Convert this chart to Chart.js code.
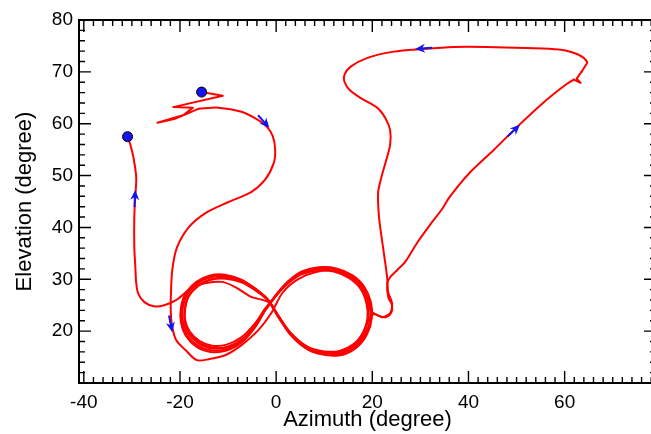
<!DOCTYPE html>
<html>
<head>
<meta charset="utf-8">
<title>Azimuth / Elevation track</title>
<script src="https://cdn.jsdelivr.net/npm/chart.js@4/dist/chart.umd.min.js"></script>
<style>
  html, body { margin: 0; padding: 0; background: #fff; overflow: hidden; }
  /* the plot frame runs a little past the right edge of the window */
  #wrap { width: 662px; height: 434px; }
</style>
</head>
<body>
<div id="wrap"><canvas id="track" width="662" height="434"></canvas></div>
<script>
// Track in [azimuth, elevation] degrees, split into pieces in the order it was flown.
const zigzag = [
  [-15.5, 66.1], [-11.1, 65.4], [-21.4, 63.2], [-17.3, 63.1], [-19.2, 61.7],
  [-24.7, 60.2], [-21.2, 60.9], [-18.1, 62.1], [-16.1, 62.9]
];
const descent = [
  [-16.1, 62.9], [-12.0, 63.1], [-7.2, 62.3], [-3.7, 60.7], [-1.9, 59.4], [-0.7, 57.6],
  [-0.2, 55.0], [-0.5, 52.4], [-2.3, 49.2], [-5.2, 46.8], [-9.9, 44.9], [-14.6, 42.8],
  [-18.1, 40.1], [-20.6, 36.2], [-21.6, 31.8], [-21.9, 26.6], [-21.9, 23.5], [-21.6, 20.8],
  [-20.8, 18.3], [-18.8, 16.3], [-16.5, 14.4], [-14.0, 14.6], [-10.5, 15.4], [-7.2, 17.3],
  [-3.7, 20.2], [-1.0, 23.5], [1.4, 27.5], [4.5, 30.0], [8.3, 31.4], [12.2, 31.6],
  [15.3, 30.6], [17.7, 28.5], [19.0, 25.5], [19.2, 22.6], [18.2, 19.8], [16.2, 17.4],
  [13.3, 16.0], [10.0, 15.9], [6.5, 16.8], [3.0, 19.4], [0.3, 23.0], [-1.7, 26.0],
  [-4.2, 28.0], [-7.3, 29.8], [-10.6, 30.6], [-13.7, 30.4], [-16.4, 29.2], [-18.5, 27.0],
  [-19.4, 24.4], [-19.4, 21.9], [-18.3, 19.5], [-16.2, 17.7], [-13.5, 16.7], [-10.3, 16.9],
  [-7.0, 18.4], [-4.3, 21.2], [-2.4, 24.0]
];
const firstLoop = [
  [-2.4, 24.0], [0.4, 27.5], [2.5, 29.6], [5.2, 31.4], [8.7, 32.2], [12.3, 32.0],
  [15.6, 30.6], [18.1, 28.4], [19.4, 25.4], [19.6, 22.4], [18.6, 19.5], [16.5, 17.1],
  [13.5, 15.7], [10.2, 15.7], [6.7, 16.7], [3.2, 19.4], [0.5, 22.9], [-1.6, 25.9],
  [-4.0, 27.8], [-7.1, 29.5], [-10.4, 30.3], [-13.5, 30.0], [-16.1, 28.9], [-18.1, 26.9],
  [-18.9, 24.5], [-18.9, 22.0], [-17.9, 19.8], [-15.9, 18.1], [-13.3, 17.2], [-10.3, 17.4],
  [-7.1, 18.9], [-4.4, 21.5], [-2.5, 24.1]
];
const outbound = [
  [-2.5, 24.1], [0.5, 27.4], [2.6, 29.3], [5.3, 31.0], [8.7, 31.8], [12.2, 31.6],
  [15.4, 30.3], [17.8, 28.3], [19.0, 25.6], [19.6, 24.0], [21.0, 23.1], [22.7, 22.7],
  [23.9, 23.5], [24.1, 25.0], [23.3, 26.6], [23.1, 29.1], [23.7, 30.4], [25.2, 31.8],
  [26.8, 33.3], [29.3, 37.0], [32.0, 40.5], [34.4, 43.4], [36.1, 45.9], [40.2, 50.5],
  [45.2, 54.9], [49.9, 59.2], [55.5, 64.0], [60.2, 67.5], [61.9, 68.5]
];
const spur = [[61.9, 68.5], [63.3, 67.9], [62.5, 68.7], [63.5, 70.0]];
const topLoop = [
  [63.5, 70.0], [64.3, 71.2], [64.7, 71.9], [62.9, 73.3], [58.8, 74.3], [52.0, 74.6],
  [43.7, 74.8], [36.9, 74.8], [30.3, 74.4], [24.5, 73.9], [19.0, 72.7], [15.5, 71.0],
  [14.2, 69.4], [14.2, 68.1], [15.3, 66.5], [17.5, 65.0], [21.0, 63.1], [22.7, 61.1],
  [23.7, 58.8], [23.7, 55.9], [22.9, 53.0], [21.9, 49.7], [21.2, 46.6], [21.4, 42.0],
  [22.1, 37.0], [22.7, 33.1], [23.1, 30.2], [23.3, 27.5], [24.1, 25.4], [23.7, 23.5],
  [22.1, 22.7], [20.4, 23.3], [19.2, 22.1], [18.4, 19.7], [16.4, 17.2], [13.5, 15.8],
  [10.2, 15.6], [6.6, 16.5], [3.1, 19.2], [0.4, 22.8], [-1.6, 25.8], [-4.1, 27.7],
  [-7.2, 29.4], [-10.5, 30.1], [-13.6, 29.9], [-16.2, 28.7], [-18.2, 26.7], [-19.0, 24.3],
  [-19.0, 21.8], [-17.9, 19.5], [-15.8, 17.7], [-13.1, 16.8], [-10.0, 17.0], [-6.8, 18.6],
  [-4.1, 21.3], [-2.3, 24.0]
];
const secondLoop = [
  [-2.3, 24.0], [0.6, 27.6], [2.7, 29.7], [5.4, 31.5], [8.9, 32.3], [12.5, 32.1],
  [15.8, 30.8], [18.3, 28.6], [19.7, 25.6], [19.9, 22.5], [18.9, 19.4], [16.8, 16.9],
  [13.7, 15.4], [10.3, 15.4], [6.8, 16.4], [3.3, 19.1], [0.6, 22.7], [-1.5, 25.8],
  [-3.9, 27.9], [-7.0, 29.8], [-10.3, 30.7], [-13.5, 30.5], [-16.3, 29.4], [-18.6, 27.2],
  [-19.6, 24.6], [-19.6, 21.8], [-18.6, 19.3], [-16.4, 17.3], [-13.6, 16.3], [-10.4, 16.5],
  [-7.1, 18.1], [-4.3, 20.9], [-2.4, 23.9]
];
const thirdLoop = [
  [-2.4, 23.9], [0.3, 27.3], [2.3, 29.2], [5.0, 30.9], [8.5, 31.7], [12.0, 31.5],
  [15.2, 30.2], [17.6, 28.1], [18.8, 25.3], [19.0, 22.5], [18.1, 19.8], [16.1, 17.5],
  [13.2, 16.2], [10.0, 16.1], [6.5, 17.0], [3.0, 19.7], [0.3, 23.2], [-1.7, 26.1],
  [-4.2, 28.1], [-7.4, 30.0], [-10.7, 30.9], [-13.9, 30.7], [-16.6, 29.5], [-18.8, 27.3],
  [-19.8, 24.6], [-19.8, 21.7], [-18.8, 19.1], [-16.6, 17.0], [-13.7, 16.0], [-10.5, 16.2],
  [-7.2, 17.8], [-4.4, 20.7], [-2.5, 23.8]
];
const returnPath = [
  [-2.5, 23.8], [0.5, 27.4], [2.6, 29.5], [5.3, 31.3], [8.8, 32.1], [12.4, 31.9],
  [15.7, 30.5], [18.2, 28.3], [19.5, 25.3], [19.7, 22.3], [18.7, 19.3], [16.6, 16.9],
  [13.6, 15.5], [10.3, 15.5], [6.8, 16.4], [3.3, 19.0], [0.6, 22.6], [-1.4, 25.5],
  [-5.2, 26.6], [-8.5, 28.5], [-11.3, 29.5], [-14.6, 29.3], [-17.5, 28.5], [-18.8, 27.5],
  [-20.8, 26.0], [-23.3, 25.0], [-25.4, 24.8], [-27.4, 25.6], [-28.7, 27.3], [-29.1, 29.3],
  [-29.3, 32.7], [-29.5, 36.2], [-29.5, 42.0], [-29.3, 45.9], [-29.1, 49.7], [-29.7, 53.6],
  [-30.3, 55.9], [-30.9, 57.5]
];

// end points of the track
const endAz = [-15.5, -30.9];
const endEl = [66.1, 57.5];

// direction arrows (tip positions)
const arrowAz = [-1.4, -21.6, -29.3, 50.7, 28.9];
const arrowEl = [59.2, 19.8, 47.2, 59.8, 74.4];

const xTicks = [-40, -20, 0, 20, 40, 60];
const yTicks = [20, 30, 40, 50, 60, 70, 80];

const RED = '#ff0000';
const BLUE = '#1414ee';
const FONT = "'Liberation Sans', Arial, Helvetica, sans-serif";

const pieces = [
  { pts: zigzag, tension: 0 },
  { pts: descent, tension: 0.3 },
  { pts: firstLoop, tension: 0.3 },
  { pts: outbound, tension: 0.3 },
  { pts: spur, tension: 0 },
  { pts: topLoop, tension: 0.3 },
  { pts: secondLoop, tension: 0.3 },
  { pts: thirdLoop, tension: 0.3 },
  { pts: returnPath, tension: 0.3 }
];
const fullTrack = pieces.flatMap(p => p.pts);

const datasets = [{
  data: endAz.map((a, i) => ({ x: a, y: endEl[i] })),
  showLine: false,
  pointRadius: 5,
  pointBackgroundColor: BLUE,
  pointBorderColor: '#000',
  pointBorderWidth: 1,
  order: 0
}].concat(pieces.map(p => ({
  data: p.pts.map(([a, e]) => ({ x: a, y: e })),
  showLine: true,
  borderColor: RED,
  borderWidth: 2,
  borderJoinStyle: 'round',
  borderCapStyle: 'round',
  pointRadius: 0,
  tension: p.tension,
  order: 1
})));

// box frame with inward major/minor ticks on all four sides
const frame = {
  id: 'frame',
  afterDraw(chart) {
    const { ctx, chartArea: a, scales: { x, y } } = chart;
    ctx.save();
    ctx.strokeStyle = '#000';
    ctx.lineWidth = 2;
    ctx.strokeRect(a.left, a.top, a.right - a.left, a.bottom - a.top);
    ctx.lineWidth = 1.4;
    ctx.beginPath();
    for (let v = -40; v < x.max; v += 2) {
      const px = x.getPixelForValue(v);
      const len = v % 20 === 0 ? 12 : 6;
      ctx.moveTo(px, a.bottom); ctx.lineTo(px, a.bottom - len);
      ctx.moveTo(px, a.top); ctx.lineTo(px, a.top + len);
    }
    for (let v = 12; v < y.max; v += 2) {
      const py = y.getPixelForValue(v);
      const len = v % 10 === 0 ? 12 : 6;
      ctx.moveTo(a.left, py); ctx.lineTo(a.left + len, py);
      ctx.moveTo(a.right, py); ctx.lineTo(a.right - len, py);
    }
    ctx.stroke();
    ctx.restore();
  }
};

// blue arrowheads pointing along the track
const arrows = {
  id: 'arrows',
  afterDatasetsDraw(chart) {
    const { ctx, scales: { x, y } } = chart;
    const px = fullTrack.map(([a, e]) => [x.getPixelForValue(a), y.getPixelForValue(e)]);
    ctx.save();
    ctx.fillStyle = BLUE;
    ctx.strokeStyle = BLUE;
    ctx.lineWidth = 2;
    arrowAz.forEach((az, k) => {
      const tx = x.getPixelForValue(az);
      const ty = y.getPixelForValue(arrowEl[k]);
      let best = 1, bestD = Infinity;
      for (let i = 1; i < px.length - 1; i++) {
        const d = (px[i][0] - tx) ** 2 + (px[i][1] - ty) ** 2;
        if (d < bestD) { bestD = d; best = i; }
      }
      const ang = Math.atan2(px[best + 1][1] - px[best - 1][1], px[best + 1][0] - px[best - 1][0]);
      ctx.save();
      ctx.translate(tx, ty);
      ctx.rotate(ang);
      ctx.beginPath();
      ctx.moveTo(-17, 0); ctx.lineTo(-6, 0);
      ctx.stroke();
      ctx.beginPath();
      ctx.moveTo(0, 0);
      ctx.lineTo(-10, -4.5);
      ctx.lineTo(-7, 0);
      ctx.lineTo(-10, 4.5);
      ctx.closePath();
      ctx.fill();
      ctx.restore();
    });
    ctx.restore();
  }
};

new Chart(document.getElementById('track'), {
  type: 'scatter',
  data: { datasets },
  options: {
    responsive: false,
    animation: false,
    devicePixelRatio: 1,
    layout: { padding: { top: 20, right: 1, left: 0, bottom: 0 } },
    plugins: { legend: { display: false }, tooltip: { enabled: false } },
    scales: {
      x: {
        type: 'linear',
        min: -41,
        max: 79,
        grid: { display: false, drawTicks: false },
        border: { display: false },
        afterBuildTicks: s => { s.ticks = xTicks.map(v => ({ value: v })); },
        afterFit: s => { s.height = 51; },
        ticks: { color: '#000', font: { family: FONT, size: 19 }, padding: 8, maxRotation: 0, autoSkip: false },
        title: {
          display: true, text: 'Azimuth (degree)', color: '#000',
          font: { family: FONT, size: 22 }, padding: { top: 0, bottom: 1 }
        }
      },
      y: {
        type: 'linear',
        min: 10,
        max: 80,
        grid: { display: false, drawTicks: false },
        border: { display: false },
        afterBuildTicks: s => { s.ticks = yTicks.map(v => ({ value: v })); },
        afterFit: s => { s.width = 79; },
        ticks: { color: '#000', font: { family: FONT, size: 19 }, padding: 6, autoSkip: false },
        title: {
          display: true, text: 'Elevation (degree)', color: '#000',
          font: { family: FONT, size: 22 }, padding: { top: 12, bottom: 0 }
        }
      }
    }
  },
  plugins: [frame, arrows]
});
</script>
</body>
</html>
